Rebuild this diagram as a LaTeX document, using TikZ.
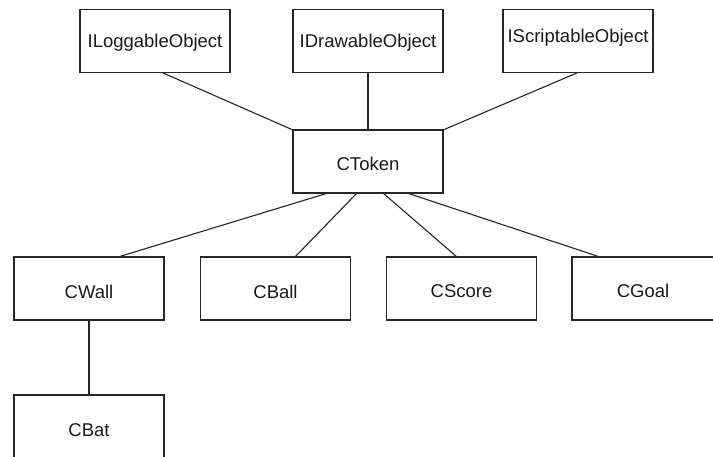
\documentclass[tikz,border=0pt]{standalone}
\usepackage{fontspec}
\setmainfont{Liberation Sans}
\begin{document}
\begin{tikzpicture}[x=1pt,y=-1pt,
  box/.style={draw=black!85,line width=1.2pt,minimum width=150pt,minimum height=63pt,inner sep=0pt,outer sep=0pt},
  lbl/.style={anchor=base,inner sep=0pt,font=\fontsize{18.5pt}{20pt}\selectfont,text=black!90},
  conn/.style={draw=black!85,line width=1.1pt}]
\useasboundingbox (0,0) rectangle (713,456);
\clip (0,0) rectangle (713,456);
\fill[white] (0,0) rectangle (713,456);
% boxes
\node[box] (ilog) at (155,41) {};
\node[box] (idraw) at (368,41) {};
\node[box] (iscr) at (578,41) {};
\node[box] (ctoken) at (368,161.5) {};
\node[box] (cwall) at (89,288.5) {};
\node[box] (cball) at (275.5,288.5) {};
\node[box] (cscore) at (461.5,288.5) {};
\node[box] (cgoal) at (647,288.5) {};
\node[box] (cbat) at (89,426.5) {};
% labels
\node[lbl] (ilogt) at (155,47) {ILoggableObject};
\node[lbl] (idrawt) at (368,47) {IDrawableObject};
\node[lbl] (iscrt) at (578,42.7) {IScriptableObject};
\node[lbl] (ctokent) at (368,170.5) {CToken};
\node[lbl] (cwallt) at (89,298) {CWall};
\node[lbl] (cballt) at (275.5,298) {CBall};
\node[lbl] (cscoret) at (461.5,297.5) {CScore};
\node[lbl] (cgoalt) at (643,297.5) {CGoal};
\node[lbl] (cbatt) at (89,436.5) {CBat};
% connectors
\draw[conn] ([xshift=7pt]ilog.south) -- (ctoken.north west);
\draw[conn] (idraw.south) -- (ctoken.north);
\draw[conn] (iscr.south) -- (ctoken.north east);
\draw[conn] ([xshift=-40pt]ctoken.south) -- ([xshift=29pt]cwall.north);
\draw[conn] ([xshift=-11pt]ctoken.south) -- ([xshift=19.5pt]cball.north);
\draw[conn] ([xshift=15pt]ctoken.south) -- ([xshift=-4.5pt]cscore.north);
\draw[conn] ([xshift=39pt]ctoken.south) -- ([xshift=-47pt]cgoal.north);
\draw[conn] (cwall.south) -- (cbat.north);
\end{tikzpicture}
\end{document}
